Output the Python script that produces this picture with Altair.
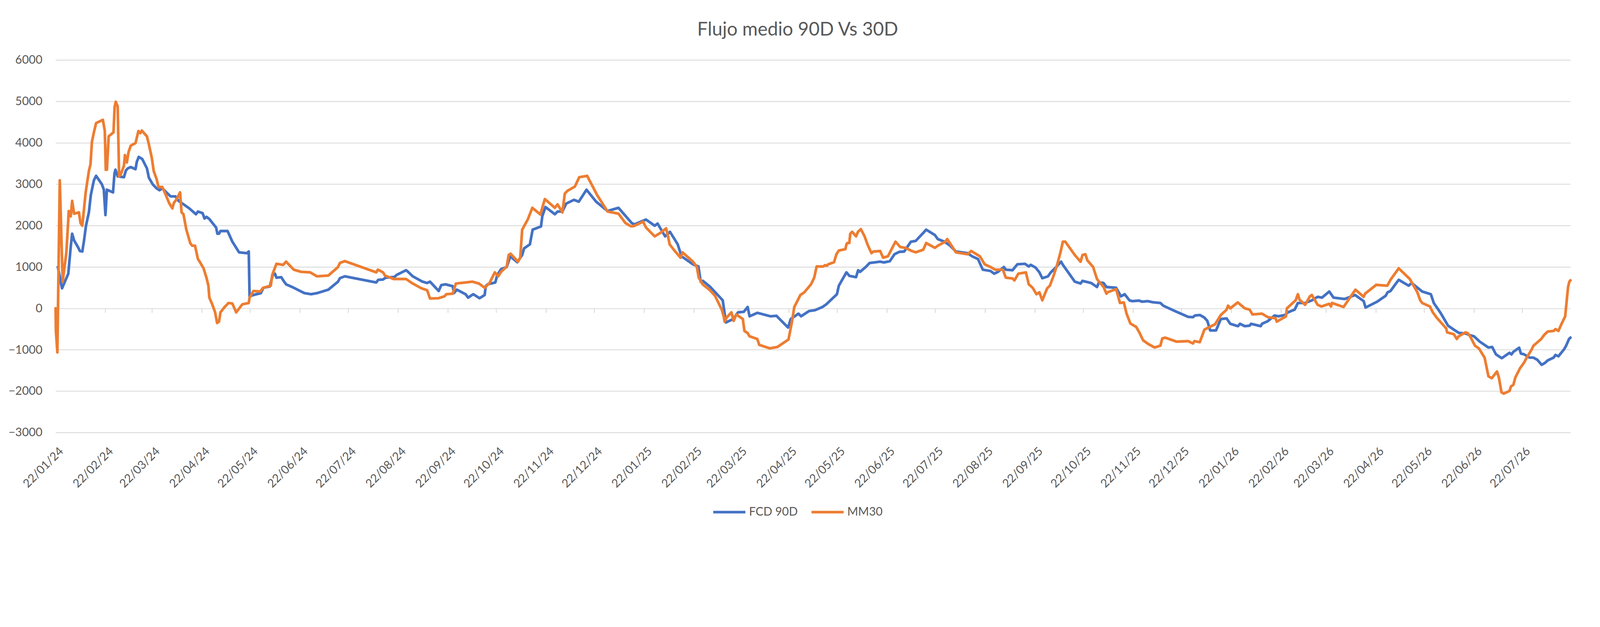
import altair as alt
import pandas as pd

START = pd.Timestamp("2024-01-22")
SERIES = ["FCD 90D", "MM30"]
COLORS = ["#4472C4", "#ED7D31"]
TITLE = "Flujo medio 90D Vs 30D"

# (days since 22/01/24, value)
FCD_90D = [
    (1.4, 998), (4.0, 483), (7.9, 837), (9.4, 1481), (10.3, 1803), (11.5, 1642), (13.9, 1481),
    (15.1, 1385), (16.6, 1372), (17.7, 1642), (18.9, 1996), (20.7, 2318), (21.9, 2737), (23.8, 3091),
    (25.2, 3201), (28.8, 2995), (30.0, 2866), (31.0, 2254), (31.9, 2866), (35.7, 2801), (36.6, 3252),
    (37.2, 3349), (38.6, 3188), (42.5, 3168), (43.7, 3329), (44.9, 3381), (46.7, 3413), (49.7, 3362),
    (50.5, 3542), (51.7, 3658), (53.9, 3606), (56.8, 3381), (58.0, 3156), (60.4, 2995), (62.8, 2898),
    (64.6, 2853), (66.4, 2898), (69.4, 2782), (71.5, 2705), (74.5, 2705), (76.5, 2595), (78.9, 2531),
    (83.1, 2415), (87.3, 2273), (88.5, 2338), (91.4, 2299), (92.6, 2170), (93.8, 2209), (95.6, 2157),
    (99.8, 1951), (100.6, 1803), (101.6, 1803), (102.5, 1868), (106.9, 1868), (109.9, 1610),
    (114.1, 1352), (118.9, 1333), (120.1, 1372), (120.6, 290), (123.0, 322), (127.6, 367),
    (129.2, 496), (133.2, 528), (135.0, 805), (136.4, 837), (137.3, 741), (140.3, 753), (142.1, 644),
    (143.3, 580), (148.1, 496), (154.7, 367), (158.9, 341), (162.5, 367), (169.6, 451), (175.6, 644),
    (176.8, 728), (179.8, 773), (199.4, 625), (200.6, 689), (203.6, 696), (205.2, 741), (210.8, 760),
    (212.0, 805), (217.9, 921), (219.1, 882), (222.1, 773), (228.1, 644), (231.0, 612), (232.8, 644),
    (238.2, 419), (239.8, 560), (242.4, 580), (246.9, 535), (247.7, 367), (249.5, 451), (254.9, 341),
    (256.5, 258), (259.7, 341), (263.6, 245), (266.8, 322), (267.4, 535), (268.6, 580), (273.4, 625),
    (274.6, 805), (277.0, 947), (280.5, 998), (282.7, 1256), (287.1, 1114), (290.1, 1288),
    (291.3, 1449), (294.9, 1546), (296.6, 1900), (301.8, 1977), (302.6, 2222), (304.6, 2447),
    (310.4, 2273), (312.1, 2338), (315.1, 2338), (317.5, 2531), (322.3, 2621), (325.3, 2576),
    (330.1, 2866), (336.1, 2576), (343.2, 2351), (350.0, 2428), (358.2, 2061), (359.9, 2029),
    (367.1, 2144), (372.5, 1996), (374.3, 2048), (379.0, 1739), (382.0, 1848), (386.8, 1546),
    (389.2, 1256), (396.3, 1063), (399.7, 1011), (401.1, 644), (402.5, 663), (407.1, 515),
    (414.8, 193), (416.8, -341), (421.4, -258), (424.3, -97), (427.9, -84), (430.3, 32),
    (431.5, -193), (436.3, -109), (444.6, -193), (448.2, -180), (455.4, -464), (457.1, -258),
    (461.9, -129), (463.5, -193), (468.5, -64), (472.1, -45), (476.8, 32), (479.2, 97), (485.8, 341),
    (487.0, 547), (491.7, 869), (493.5, 786), (497.7, 753), (499.0, 921), (500.2, 882), (503.7, 998),
    (506.1, 1095), (512.7, 1127), (515.1, 1108), (518.7, 1140), (521.6, 1307), (524.6, 1365),
    (527.6, 1372), (531.8, 1610), (534.8, 1629), (540.1, 1848), (541.3, 1900), (546.7, 1771),
    (548.5, 1674), (552.6, 1610), (556.2, 1513), (559.8, 1372), (567.0, 1333), (569.9, 1256),
    (573.5, 1191), (576.5, 934), (581.3, 902), (583.6, 837), (586.0, 882), (589.6, 998), (590.8, 934),
    (595.0, 921), (598.0, 1063), (602.7, 1075), (605.1, 1011), (606.3, 1050), (609.3, 985),
    (611.7, 869), (613.5, 728), (617.0, 773), (618.8, 869), (621.8, 985), (625.2, 1127), (626.3, 1050),
    (633.7, 644), (637.3, 599), (638.5, 663), (643.9, 612), (647.5, 515), (648.7, 625), (651.6, 612),
    (653.4, 515), (659.4, 496), (662.4, 290), (664.7, 341), (667.7, 193), (669.5, 174), (673.7, 187),
    (675.5, 161), (679.1, 174), (682.1, 148), (686.9, 129), (688.7, 64), (695.9, -64), (704.2, -206),
    (707.2, -213), (708.4, -174), (711.4, -161), (714.3, -225), (716.1, -303), (717.9, -535),
    (721.5, -535), (724.5, -258), (728.1, -245), (730.4, -374), (735.2, -431), (736.4, -374),
    (739.4, -431), (742.4, -419), (743.3, -374), (749.3, -431), (750.1, -374), (753.7, -309),
    (757.9, -174), (760.3, -193), (764.4, -161), (766.2, -97), (770.4, -32), (772.4, 129), (776.9, 129),
    (781.1, 193), (784.7, 277), (787.4, 258), (791.9, 406), (794.6, 258), (801.4, 225), (808.0, 322),
    (813.3, 174), (814.5, 19), (821.7, 161), (827.0, 303), (828.2, 386), (830.0, 419), (835.1, 689),
    (841.3, 547), (843.1, 612), (849.7, 406), (855.1, 341), (856.9, 129), (861.1, -109), (865.8, -419),
    (869.4, -515), (872.4, -592), (877.2, -612), (878.9, -644), (881.9, -676), (885.5, -805),
    (890.9, -947), (893.2, -934), (895.6, -1114), (899.2, -1204), (904.0, -1075), (905.2, -1114),
    (906.4, -1050), (910.0, -953), (911.1, -1095), (912.9, -1108), (916.5, -1191), (918.9, -1191),
    (921.3, -1243), (924.0, -1365), (926.0, -1320), (927.8, -1256), (931.4, -1191), (932.6, -1127),
    (934.4, -1159), (938.0, -985), (939.2, -902), (941.0, -741), (941.9, -708),
]

MM30 = [
    (0.0, 0), (0.2, -550), (1.1, -1063), (2.6, 3091), (4.4, 644), (6.7, 1352), (8.2, 2351), (9.4, 2222),
    (10.3, 2595), (11.5, 2286), (14.5, 2318), (15.5, 2061), (16.6, 1996), (17.7, 2415), (18.7, 2801),
    (20.7, 3317), (21.7, 3478), (22.6, 4025), (24.0, 4283), (25.2, 4476), (29.4, 4553), (30.6, 4283),
    (31.2, 3349), (31.9, 3349), (33.0, 4154), (36.0, 4250), (36.7, 4862), (37.4, 4991), (38.6, 4875),
    (39.5, 3188), (40.7, 3252), (42.5, 3445), (43.1, 3703), (44.3, 3523), (45.3, 3767), (46.7, 3928),
    (49.7, 3993), (50.5, 4122), (51.5, 4283), (52.7, 4231), (53.6, 4295), (56.8, 4154), (58.0, 3961),
    (59.8, 3639), (61.0, 3317), (62.8, 3123), (64.0, 2930), (66.4, 2930), (68.2, 2769), (70.6, 2544),
    (72.6, 2415), (73.5, 2544), (75.3, 2640), (77.4, 2801), (78.3, 2318), (79.5, 2273), (81.3, 1900),
    (83.7, 1578), (84.9, 1513), (86.7, 1513), (88.5, 1191), (89.6, 1127), (92.0, 966), (93.8, 741),
    (95.0, 547), (95.6, 258), (97.4, 97), (99.2, -97), (100.4, -354), (101.6, -322), (102.5, -97),
    (105.1, 32), (107.5, 129), (109.9, 116), (112.3, -97), (116.1, 97), (120.1, 129), (120.6, 258),
    (123.0, 419), (127.2, 406), (129.0, 496), (133.8, 547), (134.7, 805), (137.3, 1075), (141.5, 1050),
    (143.3, 1127), (148.1, 934), (152.6, 882), (158.3, 869), (162.5, 773), (169.6, 792), (175.6, 998),
    (176.8, 1095), (179.8, 1140), (199.4, 869), (200.4, 934), (203.6, 869), (204.8, 792), (210.2, 708),
    (217.9, 708), (221.5, 612), (227.5, 483), (231.0, 438), (232.8, 238), (238.2, 245), (241.8, 290),
    (243.0, 341), (246.9, 354), (248.9, 599), (259.1, 644), (263.2, 599), (266.8, 496), (269.8, 612),
    (273.1, 869), (275.2, 773), (277.0, 882), (280.5, 1011), (281.7, 1288), (282.9, 1320),
    (287.5, 1127), (288.9, 1224), (290.1, 1900), (293.7, 2157), (296.4, 2428), (301.4, 2267),
    (304.2, 2640), (310.4, 2428), (312.1, 2512), (315.1, 2318), (316.6, 2769), (318.1, 2834),
    (322.9, 2943), (325.6, 3168), (330.5, 3201), (336.7, 2737), (343.2, 2338), (350.0, 2286),
    (354.3, 2061), (357.6, 1984), (359.3, 1984), (365.3, 2093), (367.1, 1951), (372.5, 1739),
    (376.0, 1822), (379.6, 1932), (380.8, 1739), (381.8, 1546), (385.0, 1385), (388.6, 1224),
    (389.8, 1352), (396.3, 1127), (398.7, 998), (399.9, 741), (402.3, 580), (406.5, 451), (410.0, 303),
    (411.8, 161), (414.2, -32), (415.4, -193), (416.0, -322), (417.2, -225), (420.2, -97),
    (421.6, -303), (423.2, -148), (427.3, -258), (428.3, -547), (430.3, -599), (431.5, -676),
    (436.3, -741), (437.5, -882), (444.0, -966), (448.8, -934), (455.7, -753), (457.7, -354),
    (459.3, 32), (463.1, 322), (465.5, 386), (469.7, 580), (471.7, 741), (473.2, 1011), (477.4, 1011),
    (478.4, 1043), (479.6, 1030), (480.4, 1063), (484.0, 1114), (485.5, 1307), (487.0, 1397),
    (491.1, 1430), (491.7, 1546), (492.3, 1578), (493.5, 1578), (494.1, 1803), (495.3, 1848),
    (497.7, 1739), (498.9, 1848), (500.7, 1913), (503.0, 1739), (504.8, 1546), (505.9, 1449),
    (507.3, 1333), (508.5, 1372), (512.7, 1385), (514.5, 1224), (517.5, 1256), (522.2, 1610),
    (525.2, 1481), (528.2, 1462), (532.4, 1385), (534.8, 1352), (539.5, 1417), (541.3, 1578),
    (546.7, 1462), (549.1, 1526), (553.2, 1610), (554.4, 1674), (559.8, 1352), (567.0, 1307),
    (569.3, 1385), (574.7, 1256), (577.7, 1063), (581.3, 998), (584.2, 934), (589.0, 934), (590.8, 741),
    (595.0, 721), (596.2, 676), (598.6, 837), (603.3, 869), (605.1, 580), (607.5, 496), (609.9, 341),
    (611.7, 386), (613.5, 193), (616.5, 483), (618.2, 547), (620.4, 773), (622.8, 1063), (624.8, 1352),
    (626.3, 1610), (627.8, 1610), (633.7, 1288), (637.3, 1127), (638.5, 1288), (640.3, 1307),
    (641.5, 1159), (645.1, 998), (647.5, 708), (649.2, 625), (651.6, 515), (653.4, 354), (654.0, 386),
    (659.4, 464), (661.8, 129), (664.2, 142), (665.9, -129), (668.3, -367), (671.9, -451),
    (673.8, -580), (676.2, -773), (679.2, -857), (683.3, -947), (686.9, -902), (688.1, -728),
    (689.9, -708), (697.0, -805), (704.2, -792), (707.2, -850), (708.1, -792), (711.4, -818),
    (714.3, -515), (715.9, -483), (720.9, -386), (724.5, -161), (728.1, -32), (729.0, 64), (730.4, 0),
    (735.0, 142), (739.4, 0), (742.4, -32), (744.2, -148), (750.1, -129), (753.7, -213), (758.5, -238),
    (759.3, -322), (765.0, -193), (765.6, 0), (771.0, 193), (772.4, 341), (773.4, 213), (776.9, 84),
    (779.9, 290), (781.1, 322), (784.7, 84), (787.1, 45), (791.9, 109), (793.0, 45), (793.6, 129),
    (800.8, 32), (808.2, 451), (813.3, 277), (814.2, 354), (821.1, 567), (828.0, 547), (830.0, 689),
    (835.1, 966), (842.0, 708), (846.7, 386), (848.5, 193), (849.7, 129), (854.5, 45), (856.3, -97),
    (858.7, -225), (864.6, -483), (865.2, -580), (869.4, -625), (871.2, -741), (872.4, -676),
    (876.6, -580), (878.0, -599), (879.5, -676), (882.5, -902), (884.9, -966), (888.5, -1191),
    (889.7, -1417), (890.9, -1642), (893.0, -1687), (896.2, -1526), (897.4, -1674), (899.0, -2029),
    (900.4, -2061), (904.0, -1996), (904.9, -1887), (906.4, -1848), (907.6, -1674), (910.5, -1449),
    (912.9, -1320), (914.7, -1191), (917.7, -998), (918.9, -902), (923.7, -741), (925.5, -644),
    (927.8, -560), (931.4, -547), (932.6, -502), (934.4, -547), (936.2, -386), (938.6, -193),
    (939.5, 161), (940.4, 515), (941.2, 644), (941.9, 676),
]

# monthly axis ticks (22nd of each month)
TICK_MONTHS = [(2024, m) for m in range(1, 13)] + [(2025, m) for m in range(1, 13)] + [(2026, m) for m in range(1, 8)]
Y_TICKS = list(range(-3000, 7000, 1000))


def frame(pairs, name):
    days = [p[0] for p in pairs]
    vals = [p[1] for p in pairs]
    return pd.DataFrame({
        "fecha": START + pd.to_timedelta(days, unit="D"),
        "valor": vals,
        "serie": name,
        "orden": list(range(len(pairs))),
    })


df = pd.concat([frame(FCD_90D, SERIES[0]), frame(MM30, SERIES[1])], ignore_index=True)
ticks = pd.DataFrame({
    "fecha": [pd.Timestamp(year=y, month=m, day=22) for y, m in TICK_MONTHS],
    "y0": 0,
    "y1": -110,
})

x_dom = [START.isoformat(), (START + pd.to_timedelta(FCD_90D[-1][0], unit="D")).isoformat()]
xscale = alt.Scale(domain=x_dom, nice=False)
tick_values = [alt.DateTime(year=y, month=m, date=22) for y, m in TICK_MONTHS]

TXT = "#595959"
GRID = "#D9D9D9"

lines = alt.Chart(df).mark_line(strokeWidth=8, strokeJoin="round", strokeCap="round").encode(
    x=alt.X("fecha:T", scale=xscale, title=None,
            axis=alt.Axis(values=tick_values, format="%d/%m/%y", labelAngle=-45, labelAlign="right",
                          labelBaseline="top", labelPadding=38, labelOffset=5, ticks=False, domain=False,
                          grid=False, labelFontSize=35, labelColor=TXT, labelFont="Lato",
                          labelOverlap=False, labelFlush=False)),
    y=alt.Y("valor:Q", scale=alt.Scale(domain=[-3000, 6000], nice=False), title=None,
            axis=alt.Axis(values=Y_TICKS, format="d", grid=True, gridColor=GRID, gridWidth=2.5,
                          domain=False, ticks=False, labelPadding=40, labelFontSize=35,
                          labelColor=TXT, labelFont="Lato")),
    color=alt.Color("serie:N", scale=alt.Scale(domain=SERIES, range=COLORS),
                    legend=alt.Legend(title=None, orient="none", legendX=1964, legendY=1300,
                                      direction="horizontal", symbolType="stroke", symbolSize=9216,
                                      symbolStrokeWidth=8, labelFontSize=35, labelFont="Lato",
                                      labelColor=TXT, labelOffset=7, columnPadding=25, padding=0)),
    order=alt.Order("orden:Q"),
)

tick_marks = alt.Chart(ticks).mark_rule(color=GRID, strokeWidth=2.5).encode(
    x=alt.X("fecha:T", scale=xscale),
    y=alt.Y("y0:Q"),
    y2="y1:Q",
)

chart = alt.layer(tick_marks, lines).properties(
    width=4533,
    height=1114,
    title=alt.TitleParams(TITLE, fontSize=56, font="Lato", fontWeight="normal", color=TXT,
                          anchor="middle", dx=-46, offset=44),
    autosize=alt.AutoSizeParams(type="none"),
    padding={"left": 157, "top": 46, "right": 79, "bottom": 308},
    background="white",
).configure_view(stroke=None)

chart.save("out.html", embed_options={"renderer": "svg", "actions": False})
